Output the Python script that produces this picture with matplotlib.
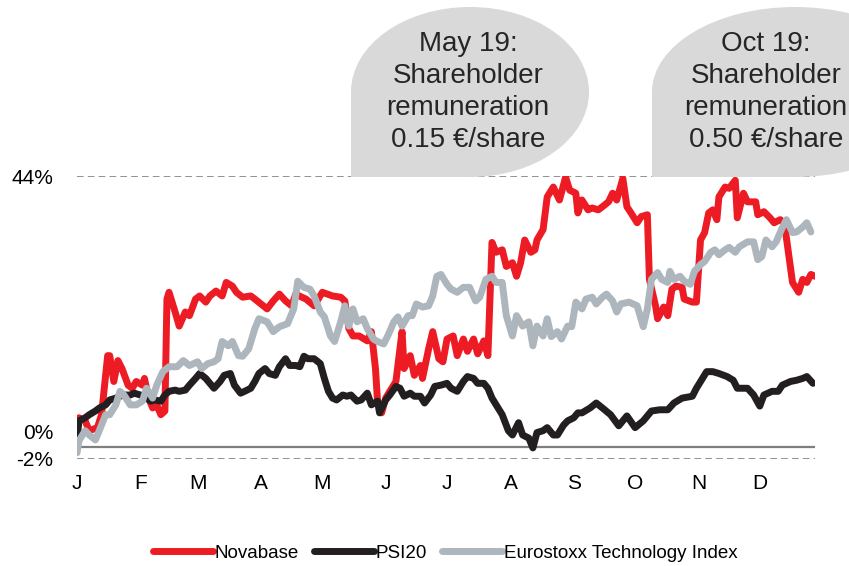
import matplotlib
matplotlib.use("Agg")
import matplotlib.pyplot as plt
from matplotlib.path import Path
from matplotlib.patches import PathPatch
from matplotlib.transforms import ScaledTranslation

plt.rcParams["font.family"] = ["Liberation Sans", "DejaVu Sans"]

# day of year (2019) and performance in %
nova_day = [0, 1, 4, 6, 10, 12, 15, 16, 18, 20, 22, 25, 27, 29, 32, 33, 35, 37, 39, 41,
            43, 44, 45, 48, 50, 53, 55, 58, 60, 63, 65, 68, 71, 73, 76, 78, 81, 85, 87, 90,
            93, 96, 99, 102, 105, 107, 110, 112, 116, 120, 125, 129, 131, 133, 135, 138, 142, 144, 146, 147,
            149, 151, 154, 156, 159, 160, 163, 165, 168, 169, 172, 174, 177, 179, 181, 184, 186, 189, 191, 194,
            196, 199, 201, 203, 205, 208, 210, 213, 215, 217, 219, 222, 224, 225, 228, 230, 233, 236, 239, 241,
            244, 245, 247, 250, 252, 255, 257, 260, 262, 264, 267, 269, 271, 274, 276, 279, 280, 283, 284, 287,
            289, 291, 293, 296, 297, 301, 303, 305, 307, 309, 311, 313, 314, 317, 319, 322, 323, 326, 328, 332,
            333, 336, 339, 341, 344, 346, 348, 350, 353, 355, 357, 359, 361]
nova_pct = [2.7, 4.7, 4.2, 2.6, 3.1, 5.2, 14.8, 14.8, 10.6, 14.0, 12.7, 10.0, 9.5, 10.6, 10.0, 11.1, 7.9, 6.3, 6.8, 5.2,
            5.8, 24.0, 25.1, 21.9, 19.6, 21.9, 21.3, 24.0, 24.5, 23.5, 24.5, 25.3, 24.5, 26.7, 26.1, 25.1, 24.3, 24.5, 24.0, 23.2,
            22.4, 23.7, 24.8, 23.7, 22.9, 24.8, 24.3, 24.0, 22.9, 25.1, 24.5, 24.3, 23.7, 19.2, 18.0, 18.0, 17.2, 18.7, 12.7, 7.4,
            5.5, 7.9, 9.5, 10.6, 18.7, 12.7, 14.8, 11.6, 13.2, 11.1, 15.9, 18.7, 14.3, 13.8, 17.5, 18.0, 14.8, 17.5, 15.5, 17.5,
            15.1, 17.2, 14.8, 33.2, 31.6, 32.0, 29.3, 29.9, 27.7, 29.9, 33.6, 31.6, 32.0, 33.6, 35.3, 40.6, 42.2, 40.1, 43.8, 41.7,
            41.2, 38.0, 40.1, 38.5, 38.8, 38.5, 39.0, 39.8, 41.2, 40.1, 43.6, 39.0, 38.0, 36.4, 37.4, 37.7, 27.2, 22.9, 20.8, 22.7,
            21.3, 25.6, 26.1, 25.9, 24.0, 23.5, 23.5, 33.6, 34.8, 38.0, 38.5, 36.9, 40.6, 42.2, 42.0, 43.3, 37.2, 41.2, 39.8, 39.8,
            37.7, 38.2, 37.2, 36.4, 36.9, 36.4, 31.6, 26.7, 25.1, 27.2, 26.7, 28.0, 27.7]

psi_day = [0, 1, 4, 6, 9, 11, 14, 16, 19, 21, 23, 26, 28, 31, 33, 36, 38, 41, 43, 45,
           48, 50, 53, 55, 58, 60, 63, 65, 67, 70, 72, 75, 77, 80, 82, 85, 87, 89, 92, 94,
           97, 99, 102, 104, 107, 109, 111, 113, 116, 119, 121, 123, 125, 127, 130, 132, 134, 137, 139, 142,
           144, 147, 148, 151, 153, 156, 158, 160, 163, 165, 168, 170, 173, 175, 178, 181, 183, 186, 189, 191,
           194, 196, 199, 201, 203, 206, 208, 211, 213, 216, 218, 221, 223, 225, 228, 230, 233, 235, 238, 240,
           243, 245, 247, 251, 254, 257, 261, 265, 269, 273, 277, 281, 285, 289, 292, 296, 301, 303, 306, 308,
           311, 314, 318, 321, 323, 328, 331, 334, 336, 340, 343, 345, 349, 352, 355, 357, 360]
psi_pct = [1.4, 4.2, 4.7, 5.2, 5.8, 6.3, 6.8, 7.6, 7.9, 8.2, 8.4, 8.4, 8.7, 8.4, 8.2, 7.4, 7.6, 7.4, 8.4, 9.0,
           9.2, 9.0, 9.2, 10.0, 11.1, 11.9, 11.1, 10.3, 9.5, 10.6, 11.6, 11.9, 10.0, 8.7, 9.0, 9.5, 10.6, 11.9, 12.7, 11.9,
           11.6, 13.0, 14.3, 13.2, 13.2, 13.0, 14.7, 14.3, 14.3, 13.5, 11.1, 9.0, 7.9, 7.6, 8.4, 8.2, 8.4, 7.4, 7.6, 8.7,
           6.8, 7.4, 5.5, 7.6, 8.4, 9.8, 9.5, 8.2, 8.7, 8.2, 8.2, 7.1, 8.4, 9.8, 10.0, 10.3, 9.5, 9.0, 10.6, 11.4,
           11.1, 10.3, 10.3, 9.5, 7.9, 6.3, 5.2, 2.6, 1.9, 3.9, 1.9, 1.4, -0.2, 2.3, 2.6, 3.1, 1.9, 1.9, 3.5, 4.2,
           4.7, 5.5, 5.5, 6.3, 7.1, 6.3, 5.2, 3.4, 5.0, 3.1, 4.2, 5.8, 6.0, 6.0, 7.1, 7.9, 8.2, 9.5, 11.1, 12.2,
           12.2, 11.9, 11.4, 10.8, 9.5, 9.5, 8.4, 6.6, 8.4, 9.0, 9.0, 10.0, 10.6, 10.8, 11.1, 11.4, 10.3]

euro_day = [0, 1, 4, 6, 9, 11, 14, 16, 19, 21, 23, 26, 29, 32, 34, 37, 39, 42, 45, 49,
            52, 55, 59, 61, 64, 67, 69, 71, 74, 76, 79, 81, 84, 87, 89, 93, 96, 99, 103, 106,
            108, 111, 114, 116, 119, 121, 124, 126, 129, 131, 133, 135, 137, 140, 142, 145, 147, 150, 152, 155,
            157, 159, 162, 164, 166, 169, 172, 174, 176, 178, 181, 183, 186, 189, 192, 195, 197, 200, 203, 205,
            208, 210, 213, 215, 218, 221, 223, 225, 228, 230, 232, 235, 237, 240, 242, 244, 247, 249, 252, 254,
            257, 259, 262, 264, 266, 270, 274, 277, 279, 281, 284, 286, 289, 290, 292, 295, 297, 300, 302, 305,
            307, 310, 312, 314, 317, 319, 322, 324, 328, 331, 333, 335, 337, 340, 342, 345, 347, 350, 352, 355,
            357, 359]
euro_pct = [-1.0, 1.0, 2.6, 1.9, 1.1, 2.7, 5.2, 5.2, 6.8, 9.0, 8.4, 6.8, 6.8, 7.4, 9.5, 7.9, 10.0, 12.2, 13.0, 13.0,
            14.0, 13.2, 13.8, 12.7, 13.5, 13.8, 14.3, 17.1, 16.4, 17.1, 14.8, 14.7, 15.9, 19.2, 20.8, 20.3, 18.7, 19.5, 20.0, 22.4,
            26.9, 25.9, 25.6, 24.5, 21.9, 21.1, 18.0, 17.1, 20.3, 22.9, 19.6, 22.4, 20.3, 20.8, 19.2, 17.5, 17.1, 16.7, 18.0, 20.3,
            21.1, 19.6, 21.3, 21.3, 23.2, 22.7, 22.9, 24.5, 27.7, 28.0, 26.4, 25.6, 25.1, 25.9, 25.9, 23.7, 24.3, 27.2, 27.7, 26.7,
            26.7, 21.3, 18.0, 21.3, 19.6, 20.3, 16.4, 19.6, 18.0, 20.8, 17.9, 18.7, 17.5, 19.6, 19.5, 23.5, 22.4, 24.0, 24.3, 23.2,
            24.3, 24.8, 23.7, 21.9, 23.2, 23.5, 22.9, 19.5, 22.4, 27.2, 28.3, 27.2, 26.7, 28.5, 27.2, 27.7, 26.9, 26.4, 28.5, 29.6,
            30.1, 31.6, 32.0, 31.2, 32.0, 32.4, 31.6, 32.5, 33.3, 33.3, 30.4, 30.9, 33.6, 32.5, 33.3, 35.6, 36.9, 34.8, 34.9, 35.7,
            36.4, 34.9]

month_start = [0, 31, 59, 90, 120, 151, 181, 212, 243, 273, 304, 334]
month_labels = ["J", "F", "M", "A", "M", "J", "J", "A", "S", "O", "N", "D"]

notes = ["May 19:\nShareholder\nremuneration\n0.15 €/share",
         "Oct 19:\nShareholder\nremuneration\n0.50 €/share"]

W, H = 849, 566
fig = plt.figure(figsize=(W / 100, H / 100), dpi=100)
ax = fig.add_axes([77 / W, 1 - 459 / H, 738 / W, 283 / H])


def teardrop(cx, cy, rx, ry):
    # ellipse with a square bottom-left corner, given in image pixels (y down)
    k = 0.5523
    pts = [(cx - rx, cy),
           (cx - rx, cy - k * ry), (cx - k * rx, cy - ry), (cx, cy - ry),
           (cx + k * rx, cy - ry), (cx + rx, cy - k * ry), (cx + rx, cy),
           (cx + rx, cy + k * ry), (cx + k * rx, cy + ry), (cx, cy + ry),
           (cx - rx, cy + ry), (cx - rx, cy)]
    codes = [Path.MOVETO] + [Path.CURVE4] * 9 + [Path.LINETO, Path.CLOSEPOLY]
    verts = [(x / W, 1 - y / H) for x, y in pts]
    return PathPatch(Path(verts, codes), transform=fig.transFigure,
                     facecolor="#d9d9d9", edgecolor="none", zorder=0)


fig.patches.append(teardrop(470, 92, 119, 85))
fig.patches.append(teardrop(795, 92, 143, 85))
fig.text(468 / W, 1 - 92 / H, notes[0], ha="center", va="center",
         fontsize=20, color="#262626", linespacing=1.31)
fig.text(766 / W, 1 - 92 / H, notes[1], ha="center", va="center",
         fontsize=20, color="#262626", linespacing=1.31)

ax.axhline(44, color="#7f7f7f", lw=1.2, ls=(0, (4, 2.5)), zorder=1)
ax.axhline(-2, color="#7f7f7f", lw=1.2, ls=(0, (4, 2.5)), zorder=1)
ax.axhline(0, color="#7f7f7f", lw=1.6, zorder=1)

ax.plot(nova_day, nova_pct, color="#ed1c24", lw=5, label="Novabase",
        solid_joinstyle="round", solid_capstyle="round", zorder=3)
ax.plot(psi_day, psi_pct, color="#231f20", lw=5, label="PSI20",
        solid_joinstyle="round", solid_capstyle="round", zorder=3)
ax.plot(euro_day, euro_pct, color="#adb5bd", lw=5, label="Eurostoxx Technology Index",
        solid_joinstyle="round", solid_capstyle="round", zorder=3)

ax.set_xlim(0, 361)
ax.set_ylim(-2, 44)
ax.set_xticks(month_start)
ax.set_xticklabels(month_labels, fontsize=15)
ax.set_yticks([-2, 0, 44])
ax.set_yticklabels(["-2%", "0%", "44%"], fontsize=15)
ax.tick_params(axis="x", length=0, pad=11)
ax.tick_params(axis="y", length=0, pad=17)
# lift the 0% label above its line as in the original
lbl0 = ax.get_yticklabels()[1]
lbl0.set_transform(lbl0.get_transform() + ScaledTranslation(0, 11 / 72, fig.dpi_scale_trans))
for s in ax.spines.values():
    s.set_visible(False)
ax.patch.set_alpha(0)

fig.legend(loc="center", bbox_to_anchor=(445 / W, 1 - 553 / H), ncol=3, frameon=False,
           fontsize=13.5, handlelength=3.2, handletextpad=0.1, columnspacing=0.8,
           borderpad=0)

fig.savefig("out.png", dpi=100)
